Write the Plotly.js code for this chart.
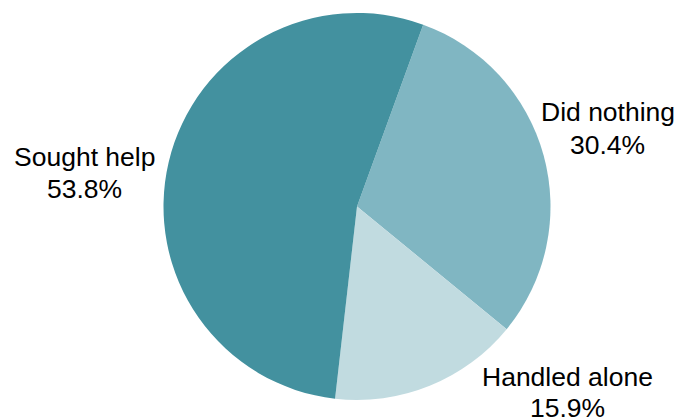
<!DOCTYPE html>
<html>
<head>
<meta charset="utf-8">
<script src="https://cdn.plot.ly/plotly-3.0.1.min.js"></script>
<style>html,body{margin:0;padding:0;background:#fff;overflow:hidden;}#chart{width:678px;height:419px;}</style>
</head>
<body>
<div id="chart"></div>
<script>
const categories = ["Did nothing", "Handled alone", "Sought help"];
const shares = [30.4, 15.9, 53.8];
const colors = ["#80b6c2", "#c1dbe0", "#43919f"];

// label placement (pixel positions of each label's two text lines)
const labelPos = [
  { x: 607.5, y1: 112.5, y2: 144.5 },
  { x: 567,   y1: 377,   y2: 407.5 },
  { x: 84,    y1: 157,   y2: 189 }
];

const W = 678, H = 419;
const M = { l: 36, r: 0, t: 13, b: 19 };
const pw = W - M.l - M.r, ph = H - M.t - M.b;
const px = x => (x - M.l) / pw;
const py = y => 1 - (y - M.t) / ph;

const font = { family: "Liberation Sans, Arial, sans-serif", size: 26.5, color: "#000" };

const trace = {
  type: "pie",
  labels: categories,
  values: shares,
  sort: false,
  direction: "clockwise",
  rotation: 20,
  marker: { colors: colors, line: { width: 0 } },
  textinfo: "none",
  hoverinfo: "none",
  showlegend: false,
  domain: { x: [0, 1], y: [0, 1] }
};

const annotations = [];
categories.forEach((c, i) => {
  const p = labelPos[i];
  annotations.push({ xref: "paper", yref: "paper", x: px(p.x), y: py(p.y1), text: c,
    showarrow: false, xanchor: "center", yanchor: "middle", font: font });
  annotations.push({ xref: "paper", yref: "paper", x: px(p.x), y: py(p.y2), text: shares[i].toFixed(1) + "%",
    showarrow: false, xanchor: "center", yanchor: "middle", font: font });
});

const layout = {
  width: W,
  height: H,
  margin: M,
  paper_bgcolor: "#fff",
  showlegend: false,
  annotations: annotations
};

Plotly.newPlot("chart", [trace], layout, { displayModeBar: false, staticPlot: true });
</script>
</body>
</html>
